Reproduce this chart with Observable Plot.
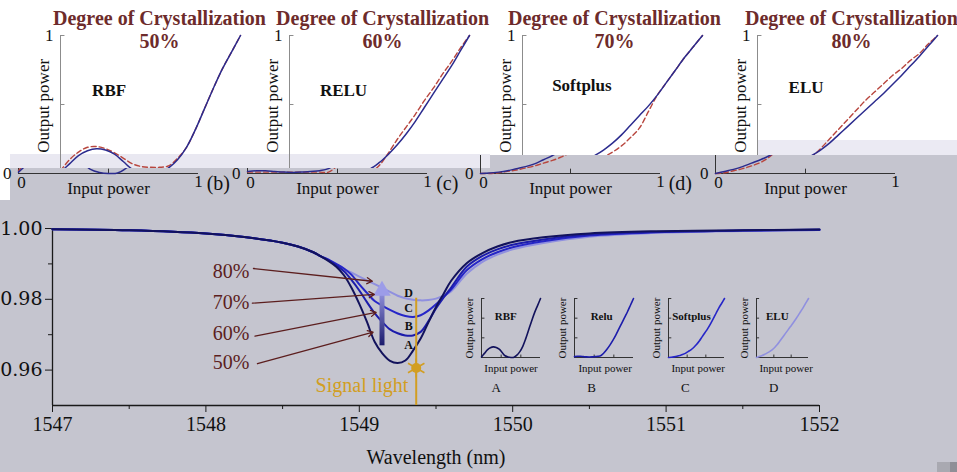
<!DOCTYPE html>
<html><head><meta charset="utf-8">
<script src="https://cdn.jsdelivr.net/npm/d3@7"></script>
<script src="https://cdn.jsdelivr.net/npm/@observablehq/plot@0.6"></script>
<style>
html,body{margin:0;padding:0;background:#fff;}
#root{position:relative;width:957px;height:472px;overflow:hidden;background:#fff;font-family:'Liberation Serif',serif;}
.bg{position:absolute;}
.clip{position:absolute;overflow:hidden;}
.clip svg{position:absolute;left:0;}
.abs{position:absolute;}
svg text{font-family:'Liberation Serif',serif;}
</style></head><body><div id="root"></div>
<script>
// ---------- data: main transmission spectra ----------
const wavelength = [1547,1547.5,1548,1548.25,1548.5,1548.6,1548.7,1548.75,1548.8,1548.85,1548.9,1548.95,1549.0,1549.05,1549.1,1549.15,1549.2,1549.25,1549.3,1549.35,1549.4,1549.45,1549.5,1549.55,1549.6,1549.7,1549.8,1549.9,1550.0,1550.2,1550.5,1550.9,1551.5,1552];
const transA = [0.9998,0.9995,0.9986,0.9976,0.9960,0.9949,0.9933,0.9921,0.9908,0.9892,0.9868,0.9832,0.9787,0.9736,0.9680,0.9647,0.9626,0.9620,0.9627,0.9655,0.9689,0.9734,0.9778,0.9816,0.9853,0.9902,0.9930,0.9949,0.9962,0.9975,0.9986,0.9992,0.9995,0.9997];
const transB = [0.9998,0.9995,0.9986,0.9976,0.9960,0.9949,0.9933,0.9921,0.9911,0.9896,0.9879,0.9854,0.9825,0.9792,0.9761,0.9736,0.9715,0.9704,0.9698,0.9698,0.9708,0.9738,0.9774,0.9805,0.9834,0.9892,0.9922,0.9941,0.9954,0.9969,0.9983,0.9990,0.9994,0.9997];
const transC = [0.9998,0.9995,0.9986,0.9976,0.9960,0.9949,0.9933,0.9921,0.9912,0.9900,0.9887,0.9869,0.9842,0.9818,0.9795,0.9782,0.9770,0.9760,0.9753,0.9750,0.9755,0.9768,0.9786,0.9807,0.9828,0.9882,0.9913,0.9933,0.9947,0.9964,0.9980,0.9989,0.9994,0.9996];
const transD = [0.9998,0.9995,0.9986,0.9976,0.9960,0.9949,0.9933,0.9921,0.9910,0.9897,0.9886,0.9875,0.9864,0.9853,0.9843,0.9832,0.9821,0.9810,0.9803,0.9799,0.9797,0.9798,0.9802,0.9810,0.9823,0.9872,0.9905,0.9926,0.9941,0.9959,0.9977,0.9987,0.9993,0.9996];
const xMajorTicks = [1547,1548,1549,1550,1551,1552];
const xMinorTicks = [1547.5,1548.5,1549.5,1550.5,1551.5];
const yMajorTicks = [0.96,0.98,1.00];
const yMinorTicks = [0.97,0.99];
const pctLabels = ["80%","70%","60%","50%"];
const pctLabelY = [0.9879,0.9792,0.9704,0.9620];
const pctArrowX1 = [1548.31,1548.303,1548.32,1548.336];
const pctArrowY1 = [0.9887,0.9789,0.9696,0.9618];
const pctArrowX2 = [1549.085,1549.098,1549.11,1549.09];
const pctArrowY2 = [0.9851,0.9814,0.9763,0.9707];
const curveLetters = ["D","C","B","A"];
const curveLetterY = [0.9816,0.9774,0.9725,0.9670];
const signalWavelength = [1549.371];
const signalTop = 0.9803;
const sunY = [0.9606];
const tuneArrowX = [1549.148];
const tuneArrowBottom = 0.9670, tuneArrowTop = 0.9838;

// ---------- data: activation functions (input / output power) ----------
const inputPower = [0,0.05,0.1,0.15,0.2,0.25,0.3,0.35,0.4,0.45,0.5,0.55,0.6,0.65,0.7,0.75,0.8,0.85,0.9,0.95,1];
const rbfFit =    [0.01,0.07,0.13,0.165,0.18,0.17,0.14,0.085,0.03,0.008,0,0.003,0.04,0.1,0.19,0.32,0.47,0.62,0.76,0.88,1];
const rbfTarget = [0.02,0.1,0.155,0.19,0.195,0.18,0.15,0.11,0.07,0.05,0.045,0.045,0.055,0.11,0.19,0.32,0.47,0.62,0.76,0.88,1];
const reluFit =   [0.015,0.02,0.02,0.015,0.01,0.008,0.01,0.015,0.02,0.035,0.08,0.14,0.21,0.29,0.38,0.48,0.58,0.68,0.78,0.89,1];
const reluTarget= [0.01,0.01,0.01,0.01,0.01,0.01,0.01,0.01,0.01,0.01,0.06,0.15,0.25,0.34,0.43,0.53,0.62,0.72,0.81,0.91,1];
const softplusFit=[0,0.003,0.01,0.02,0.035,0.05,0.07,0.1,0.13,0.17,0.22,0.28,0.35,0.42,0.49,0.57,0.66,0.75,0.84,0.92,1];
const softplusTarget=[0,0,0.005,0.015,0.025,0.04,0.055,0.075,0.095,0.12,0.155,0.2,0.26,0.33,0.45,0.57,0.66,0.75,0.84,0.92,1];
const eluFit =    [0,0.015,0.03,0.05,0.075,0.1,0.13,0.17,0.22,0.28,0.34,0.4,0.46,0.52,0.58,0.645,0.71,0.78,0.85,0.925,1];
const eluTarget = [0,0.005,0.02,0.035,0.055,0.08,0.12,0.18,0.25,0.32,0.39,0.46,0.53,0.59,0.65,0.71,0.76,0.82,0.87,0.94,1];
const panelYTicks = [0.5,1];
const panelXTicks = [0.5];
const insetTicks = [1/3,2/3,1];
const titleText = "Degree of Crystallization";
const degreeLabels = ["50%","60%","70%","80%"];
const funcNames = ["RBF","RELU","Softplus","ELU"];
const panelLetters = ["(b)","(c)","(d)",""];
const insetNames = ["RBF","Relu","Softplus","ELU"];
const insetLetters = ["A","B","C","D"];

// ---------- styling / layout ----------
const serif = "Liberation Serif";
const serifY = "DejaVu Serif";
const curveColors = ["#12125c","#1c1cab","#2626c8","#9090df"];
const fitColor = "#2b2b8e", targetColor = "#b8463e";
const gold = "#d29e22", brown = "#5c1e1e", titleColor = "#6d2b2b";
const grayBg = "#c5c5cf";
const panelLayout = [
  {x0: 60,  clip: 168, nameX: 0.27, nameY: 0.6,  titleX: 0.55},
  {x0: 289, clip: 168, nameX: 0.30, nameY: 0.6,  titleX: 0.517},
  {x0: 522, clip: 155, nameX: 0.33, nameY: 0.64, titleX: 0.511},
  {x0: 757, clip: 155, nameX: 0.27, nameY: 0.62, titleX: 0.522}
];
const panelFits = [rbfFit, reluFit, softplusFit, eluFit];
const panelTargets = [rbfTarget, reluTarget, softplusTarget, eluTarget];
const stripShift = 42;
const insetLayout = [
  {x0: 481, w: 59, nameX: 0.41, letterX: 0.25, inX: 0.50},
  {x0: 574, w: 59, nameX: 0.46, letterX: 0.29, inX: 0.52},
  {x0: 668, w: 56, nameX: 0.41, letterX: 0.30, inX: 0.53},
  {x0: 756, w: 52, nameX: 0.40, letterX: 0.33, inX: 0.57}
];

const root = document.getElementById("root");
function bg(l, t, w, h, c) {
  const d = document.createElement("div");
  d.className = "bg";
  Object.assign(d.style, {left: l + "px", top: t + "px", width: w + "px", height: h + "px", background: c});
  root.appendChild(d);
}
bg(10, 168, 947, 304, grayBg);
bg(0, 200, 10, 272, grayBg);
bg(490, 155, 467, 13, grayBg);
bg(10, 154, 480, 14, "#e9e8f1");
bg(757, 140, 200, 15, "#ebeaf3");
bg(937, 462, 13, 10, "#a9a9b1");
bg(950, 462, 7, 10, "#8f8f97");

const T = (extra) => Object.assign({fontFamily: serif, fill: "#111"}, extra);

function panelPlot(i, strip) {
  const L = panelLayout[i];
  return Plot.plot({
    width: 270, height: 200, marginLeft: 50, marginRight: 40, marginTop: 35, marginBottom: 27,
    x: {domain: [0, 1], axis: null}, y: {domain: [0, 1], axis: null},
    style: {background: "transparent", overflow: "visible", fontFamily: serif, fontSize: "17px", color: "#111"},
    marks: [
      Plot.ruleX([0], {y1: 0, y2: 1, stroke: strip ? "#333" : "#8c8c8c", strokeWidth: 1}),
      Plot.ruleY([0], {x1: 0, x2: 1, stroke: "#333", strokeWidth: 1}),
      Plot.link(panelYTicks, {x1: 0, x2: 0.022, y1: d => d, y2: d => d, stroke: "#8c8c8c"}),
      Plot.link(panelXTicks, {x1: d => d, x2: d => d, y1: 0, y2: 0.035, stroke: "#333"}),
      Plot.lineY(panelTargets[i], {x: inputPower, curve: "catmull-rom", stroke: targetColor, strokeWidth: 1.4, strokeDasharray: "5,3"}),
      Plot.lineY(panelFits[i], {x: inputPower, curve: "catmull-rom", stroke: fitColor, strokeWidth: 1.5}),
      Plot.text(["1"], T({x: 0, y: 1, dx: -7, textAnchor: "end", fontSize: 17})),
      Plot.text(["0"], T({x: 0, y: 0, dx: -7, textAnchor: "end", fontSize: 17})),
      Plot.text(["0"], T({x: 0, y: 0, dx: 3, dy: 9, fontSize: 17})),
      Plot.text(["1"], T({x: 1, y: 0, dy: 8, fontSize: 17})),
      Plot.text(["Input power"], T({x: 0.5, y: 0, dy: 15, fontSize: 17})),
      Plot.text(["Output power"], T({x: 0, y: 0.49, dx: -17, rotate: -90, fontSize: 17})),
      Plot.text([funcNames[i]], T({x: L.nameX, y: L.nameY, fontWeight: "bold", fontSize: 17})),
      Plot.text([panelLetters[i]], T({x: 1.11, y: 0, dy: 10, fontSize: 20})),
      Plot.text([titleText], T({x: L.titleX, y: 1, dy: -17, fontWeight: "bold", fontSize: 20, fill: titleColor})),
      Plot.text([degreeLabels[i]], T({x: L.titleX, y: 1, dy: 6, fontWeight: "bold", fontSize: 20, fill: titleColor}))
    ]
  });
}

panelLayout.forEach((L, i) => {
  const w = document.createElement("div");
  w.className = "clip";
  Object.assign(w.style, {left: (L.x0 - 50) + "px", top: "0px", width: "270px", height: L.clip + "px"});
  const s1 = panelPlot(i, false); s1.style.top = "0px";
  w.appendChild(s1); root.appendChild(w);
  const g = document.createElement("div");
  g.className = "clip";
  Object.assign(g.style, {left: (L.x0 - stripShift - 50) + "px", top: L.clip + "px", width: "270px", height: (205 - L.clip) + "px"});
  const s2 = panelPlot(i, true); s2.style.top = (-L.clip) + "px";
  g.appendChild(s2); root.appendChild(g);
});

// ---------- main chart ----------
const series = [transA, transB, transC, transD];
const main = Plot.plot({
  width: 957, height: 317, marginTop: 73, marginBottom: 67, marginLeft: 52, marginRight: 138,
  x: {domain: [1547, 1552], axis: null},
  y: {domain: [0.95, 1.0], axis: null},
  style: {background: "transparent", overflow: "visible", fontFamily: serif, fontSize: "20px", color: "#111"},
  marks: [
    Plot.ruleX([1547], {y1: 0.95, y2: 1.0, stroke: "#1a1a1a", strokeWidth: 1.3}),
    Plot.ruleY([0.95], {x1: 1547, x2: 1552, stroke: "#1a1a1a", strokeWidth: 1.3}),
    Plot.axisX({ticks: xMajorTicks, tickSize: 7, tickPadding: 4, tickFormat: d => String(d), fontSize: 20, fontFamily: serif, stroke: "#1a1a1a", fill: "#111"}),
    Plot.axisX({ticks: xMinorTicks, tickSize: 4, tickFormat: () => "", stroke: "#1a1a1a"}),
    Plot.axisY({ticks: yMajorTicks, tickSize: 7, tickPadding: 3, tickFormat: d3.format(".2f"), fontSize: 19, fontFamily: serifY, stroke: "#1a1a1a", fill: "#111"}),
    Plot.axisY({ticks: yMinorTicks, tickSize: 4, tickFormat: () => "", stroke: "#1a1a1a"}),
    ...[3, 2, 1, 0].map(k => Plot.lineY(series[k], {x: wavelength, curve: "catmull-rom", stroke: curveColors[k], strokeWidth: 2})),
    Plot.ruleX(signalWavelength, {y1: 0.95, y2: signalTop, stroke: gold, strokeWidth: 2}),
    Plot.dot(signalWavelength, {x: d => d, y: sunY, symbol: "asterisk", r: 9, stroke: gold, strokeWidth: 1.6}),
    Plot.dot(signalWavelength, {x: d => d, y: sunY, r: 5, fill: gold, stroke: "none"}),
    Plot.text(["Signal light"], T({x: 1549.32, y: 0.9555, textAnchor: "end", fill: gold, fontSize: 20})),
    Plot.link(tuneArrowX, {x1: d => d, x2: d => d, y1: tuneArrowBottom, y2: tuneArrowTop - 0.0025, stroke: "url(#tuneGrad)", strokeWidth: 5}),
    Plot.dot(tuneArrowX, {x: d => d, y: [tuneArrowTop - 0.0014], symbol: "triangle", r: 6.5, fill: "#9c9ce8", stroke: "none"}),
    Plot.arrow(pctLabels, {x1: pctArrowX1, y1: pctArrowY1, x2: pctArrowX2, y2: pctArrowY2, stroke: brown, strokeWidth: 1.3, headLength: 7}),
    Plot.text(pctLabels, T({x: 1548.283, y: pctLabelY, text: d => d, textAnchor: "end", fill: brown, fontSize: 20})),
    Plot.text(curveLetters, T({x: 1549.322, y: curveLetterY, text: d => d, fontWeight: "bold", fontSize: 12})),
    Plot.text(["Wavelength (nm)"], T({x: 1549.5, y: 0.95, dy: 52, fontSize: 20}))
  ]
});
{
  const ys = main.scale("y");
  const defs = d3.select(main).insert("defs", ":first-child");
  const gr = defs.append("linearGradient").attr("id", "tuneGrad").attr("gradientUnits", "userSpaceOnUse")
    .attr("x1", 0).attr("x2", 0).attr("y1", ys.apply(tuneArrowBottom)).attr("y2", ys.apply(tuneArrowTop));
  gr.append("stop").attr("offset", "0%").attr("stop-color", "#1b1b6c");
  gr.append("stop").attr("offset", "100%").attr("stop-color", "#a0a0ea");
  d3.select(main).selectAll("g[aria-label='y-axis tick label'] text").style("font-family", "'DejaVu Serif',serif");
}
main.classList.add("abs");
main.style.left = "0px"; main.style.top = "155px";
root.appendChild(main);

// ---------- insets ----------
insetLayout.forEach((L, j) => {
  const p = Plot.plot({
    width: 20 + L.w + 14, height: 5 + 59 + 40, marginLeft: 20, marginRight: 14, marginTop: 5, marginBottom: 40,
    x: {domain: [0, 1], axis: null}, y: {domain: [0, 1], axis: null},
    style: {background: "transparent", overflow: "visible", fontFamily: serif, fontSize: "11px", color: "#111"},
    marks: [
      Plot.ruleX([0], {y1: 0, y2: 1, stroke: "#333"}),
      Plot.ruleY([0], {x1: 0, x2: 1, stroke: "#333"}),
      Plot.link(insetTicks, {x1: 0, x2: 0.05, y1: d => d, y2: d => d, stroke: "#333"}),
      Plot.link(insetTicks.slice(0, 2), {x1: d => d, x2: d => d, y1: 0, y2: 0.05, stroke: "#333"}),
      Plot.lineY(panelFits[j], {x: inputPower, curve: "catmull-rom", stroke: curveColors[j], strokeWidth: 1.6}),
      Plot.text(["Output power"], T({x: 0, y: 0.5, dx: -12, rotate: -90, fontSize: 11})),
      Plot.text(["Input power"], T({x: L.inX, y: 0, dy: 11, fontSize: 11})),
      Plot.text([insetNames[j]], T({x: L.nameX, y: 0.695, fontWeight: "bold", fontSize: 11})),
      Plot.text([insetLetters[j]], T({x: L.letterX, y: 0, dy: 30, fontSize: 13}))
    ]
  });
  p.classList.add("abs");
  p.style.left = (L.x0 - 20) + "px"; p.style.top = "293px";
  root.appendChild(p);
});
</script></body></html>
